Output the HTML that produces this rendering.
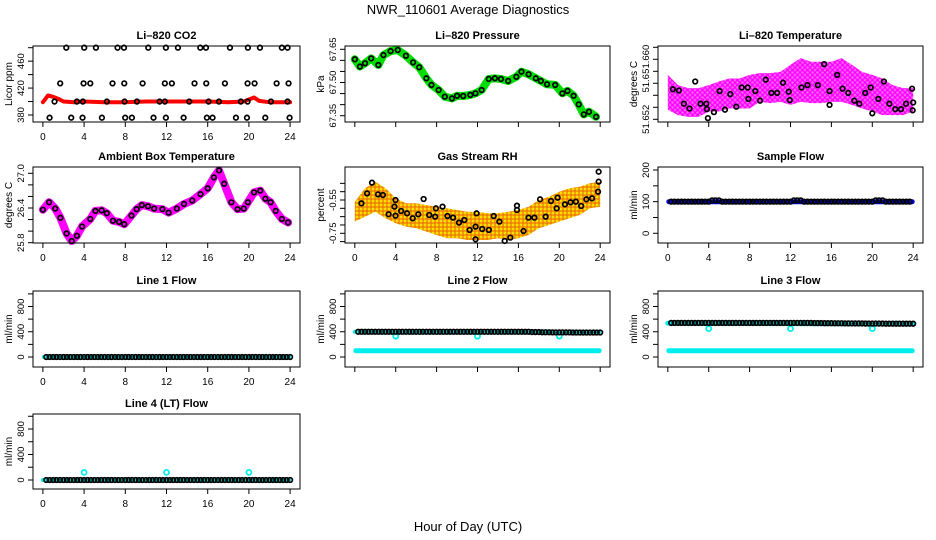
<!DOCTYPE html>
<html><head><meta charset="utf-8"><style>
html,body{margin:0;padding:0;background:#fff}
svg{display:block}
text{font-family:"Liberation Sans",Arial,sans-serif;fill:#000}
</style></head><body>
<svg id="chart" width="936" height="540" viewBox="0 0 936 540">
<defs>
<pattern id="magPat" width="5" height="5" patternUnits="userSpaceOnUse"><rect width="5" height="5" fill="#f6f"/><circle cx="2.5" cy="2.5" r="1.9" fill="none" stroke="#f0f" stroke-width="1.3"/></pattern>
<pattern id="orPat" width="4" height="4" patternUnits="userSpaceOnUse"><rect width="4" height="4" fill="#f0a000"/><rect x="0" y="0" width="2" height="2" fill="#ffdd00"/><rect x="2" y="2" width="2" height="2" fill="#f08000"/></pattern>
</defs>
<text x="468" y="14" text-anchor="middle" font-size="13">NWR_110601  Average Diagnostics</text>
<text x="468" y="531" text-anchor="middle" font-size="13">Hour of Day (UTC)</text>
</svg>
<script>
// ---------- data ----------
const xTicks=[0,4,8,12,16,20,24];
const co2T480=[2.27,4.01,5.15,7.25,7.87,10.23,11.94,13.11,15.28,15.83,18.16,19.9,21.07,23.2,23.75];
const co2T427=[1.68,3.95,4.6,6.76,7.9,9.68,11.84,12.52,14.72,15.86,17.67,19.87,20.55,22.69,23.85];
const co2T400=[1.13,3.3,3.88,6.21,7.93,9.13,11.33,11.84,14.21,16.08,17.09,19.22,19.87,22.14,23.75];
const co2T376=[0.65,2.75,3.85,5.73,7.99,8.64,10.74,11.94,13.66,15.92,16.47,18.74,19.81,21.59,23.95];
const co2Levels=[480,427,400,376];
const co2RedT=[0,0.5,1,1.5,2,3,4,6,8,10,12,14,16,18,19.5,20,20.5,21,22,23,24];
const co2RedV=[399,409,407,404,400,399,400,399,399,400,400,400,400,399,400,403,406,401,399,399,399];
const presT=[0,0.5,1,1.6,2.3,2.8,3.5,4.2,5,5.7,6.3,7,7.5,8.2,8.8,9.5,10,10.6,11.3,11.8,12.4,13.1,13.7,14.3,15,15.8,16.3,17,17.7,18.2,18.8,19.6,20.3,20.8,21.4,21.9,22.4,22.9,23.6];
const presV=[67.605,67.572,67.587,67.609,67.579,67.624,67.642,67.647,67.621,67.591,67.569,67.519,67.489,67.466,67.436,67.428,67.44,67.439,67.444,67.451,67.466,67.516,67.519,67.516,67.507,67.526,67.549,67.537,67.519,67.507,67.492,67.489,67.451,67.462,67.44,67.401,67.356,67.368,67.345];
const tempBandT=[0,1,2,3,4,5,6,7,8,9,10,11,12,13,14,15,16,17,18,19,20,21,22,23,24];
const tempLo=[51.6516,51.6507,51.6504,51.6504,51.6513,51.6513,51.6518,51.6518,51.6518,51.6529,51.6527,51.6529,51.6524,51.6529,51.6527,51.6527,51.6529,51.6529,51.6524,51.6518,51.6513,51.6507,51.6507,51.6507,51.6513];
const tempHi=[51.6574,51.6557,51.6552,51.6552,51.6557,51.6563,51.6568,51.6568,51.6574,51.6577,51.6577,51.6579,51.6591,51.6602,51.6596,51.6596,51.6596,51.6602,51.6591,51.6579,51.6574,51.6568,51.6557,51.6552,51.6552];
const tempT=[0.49,1.08,1.57,2.12,2.68,3.2,3.76,3.82,3.92,4.51,5.07,5.59,6.11,6.7,7.22,7.81,7.88,8.56,9.02,9.58,10.13,10.69,11.27,11.83,11.93,13.07,13.66,14.67,15.29,15.82,15.82,16.57,17.09,17.65,18.24,18.73,19.31,19.84,20,20.59,21.14,21.67,22.25,22.81,23.3,23.89,23.95,24];
const tempV=[51.655,51.6548,51.6526,51.6518,51.6563,51.6526,51.6526,51.6517,51.6502,51.6512,51.6547,51.6516,51.6542,51.6521,51.6553,51.6553,51.6534,51.6547,51.6531,51.6566,51.6544,51.6544,51.6561,51.6546,51.6532,51.6553,51.6557,51.6557,51.6592,51.6547,51.6524,51.6574,51.6551,51.6544,51.6531,51.6526,51.6544,51.6553,51.651,51.6534,51.6563,51.6526,51.6517,51.6517,51.6526,51.6551,51.6515,51.6528];
const ambT=[0,0.6,1.2,1.7,2.3,2.8,3.3,3.8,4.6,5.1,5.7,6.2,6.8,7.4,7.9,8.6,9.1,9.6,10.2,10.8,11.6,12.2,13,13.7,14.5,15.3,16,16.6,17.1,17.6,18.3,18.9,19.5,19.9,20.5,21.1,21.6,22.1,22.6,23.2,23.8];
const ambV=[26.37,26.5,26.39,26.23,25.96,25.83,25.92,26.08,26.21,26.35,26.36,26.31,26.18,26.16,26.12,26.27,26.38,26.45,26.43,26.39,26.38,26.32,26.39,26.47,26.53,26.64,26.74,26.93,27.05,26.82,26.5,26.38,26.39,26.5,26.67,26.7,26.56,26.5,26.35,26.21,26.15];
const rhBandT=[0,1,2,3,4,5,6,7,8,9,10,11,12,13,14,15,16,17,18,19,20,21,22,23,24];
const rhHi=[-0.56,-0.48,-0.44,-0.48,-0.54,-0.57,-0.57,-0.58,-0.59,-0.6,-0.61,-0.62,-0.62,-0.63,-0.63,-0.62,-0.61,-0.59,-0.55,-0.53,-0.5,-0.48,-0.47,-0.45,-0.44];
const rhLo=[-0.68,-0.65,-0.62,-0.66,-0.69,-0.71,-0.72,-0.74,-0.76,-0.78,-0.78,-0.79,-0.79,-0.79,-0.78,-0.79,-0.78,-0.76,-0.72,-0.7,-0.68,-0.66,-0.64,-0.6,-0.59];
const rhT=[0.65,1.2,1.68,2.27,2.75,3.3,3.88,3.98,3.98,4.53,5.11,5.66,6.21,6.73,7.28,7.86,7.93,8.58,9.06,9.61,10.19,10.71,11.23,11.81,11.81,11.91,12.46,13.11,13.59,14.14,14.66,15.21,15.86,15.86,16.5,16.99,17.57,18.12,18.67,19.19,19.74,19.84,20.55,21.1,21.62,22.14,22.65,23.2,23.79,23.85,23.85];
const rhV=[-0.57,-0.51,-0.446,-0.516,-0.52,-0.636,-0.59,-0.55,-0.644,-0.616,-0.63,-0.66,-0.636,-0.544,-0.64,-0.65,-0.6,-0.59,-0.646,-0.656,-0.686,-0.67,-0.73,-0.71,-0.786,-0.63,-0.724,-0.73,-0.646,-0.68,-0.796,-0.776,-0.61,-0.584,-0.736,-0.656,-0.656,-0.546,-0.65,-0.556,-0.6,-0.536,-0.576,-0.564,-0.56,-0.586,-0.546,-0.54,-0.5,-0.44,-0.38];
const flowHours=[0,1,2,3,4,5,6,7,8,9,10,11,12,13,14,15,16,17,18,19,20,21,22,23];
const sampleBlack=[100,100,100,100,104,100,100,100,100,100,100,100,104,100,100,100,100,100,100,100,104,100,100,100];
const line1Black=[0,0,0,0,0,0,0,0,0,0,0,0,0,0,0,0,0,0,0,0,0,0,0,0];
const line2Black=[400,400,400,400,400,400,400,400,400,400,400,400,400,400,400,400,400,395,392,390,390,388,388,388];
const line2Dips=[4,12,20];
const line3Black=[540,540,540,540,540,540,540,540,540,540,540,540,540,540,538,536,535,533,532,530,530,528,528,528];
const line4Black=[0,0,0,0,0,0,0,0,0,0,0,0,0,0,0,0,0,0,0,0,0,0,0,0];
const line4Spikes=[4,12,20];
const line4SpikeV=[120,120,120];

// ---------- drawing ----------
const NS='http://www.w3.org/2000/svg';
const svg=document.getElementById('chart');
function mk(tag,attrs,parent){const e=document.createElementNS(NS,tag);for(const k in attrs)e.setAttribute(k,attrs[k]);(parent||svg).appendChild(e);return e;}
const cols=[[33,300],[345,610],[658,923]];
const rows=[[46,122],[167,243],[291,367],[414,489]];
function panel(name,title,col,row,yref,yticks,ylabels,ytitle,showX){
  const [x0,x1]=cols[col],[y0,y1]=rows[row];
  const g=mk('g',{});
  
  
  const xs=t=>x0+(t+0.96)/25.92*(x1-x0);
  const ys=v=>yref[1]+(v-yref[0])*(yref[3]-yref[1])/(yref[2]-yref[0]);
  const t=mk('text',{x:(x0+x1)/2,y:y0-7,'text-anchor':'middle','font-size':'11','font-weight':'bold'},g);
  
  
  t.textContent=title;
  const plot=mk('g',{},g);
  const box=mk('rect',{x:x0,y:y0,width:x1-x0,height:y1-y0,fill:'none',stroke:'#000','stroke-width':1},g);
  
  
  const ax=mk('g',{},g);
  
  
  xTicks.forEach(v=>{const x=xs(v);mk('line',{x1:x,x2:x,y1:y1,y2:y1+5,stroke:'#000'},ax);
    if(showX){const l=mk('text',{x:x,y:y1+18,'text-anchor':'middle','font-size':'10'},ax);l.textContent=v;}});
  const ay=mk('g',{},g);
  
  
  yticks.forEach((v,i)=>{const y=ys(v);mk('line',{x1:x0-5,x2:x0,y1:y,y2:y,stroke:'#000'},ay);
    if(ylabels[i]){const l=mk('text',{x:0,y:0,'text-anchor':'middle','font-size':'9.5',transform:`translate(${x0-9},${y}) rotate(-90)`},ay);l.textContent=ylabels[i];}});
  const yt=mk('text',{x:0,y:0,'text-anchor':'middle','font-size':'10',transform:`translate(${x0-21},${(y0+y1)/2}) rotate(-90)`},g);
  
  
  yt.textContent=ytitle;
  return {plot,xs,ys};
}
function circ(p,x,y,color,r,w){const c=mk('circle',{cx:x,cy:y,r:r||2.3,fill:'none',stroke:color,'stroke-width':w||1.7},p);return c;}
function polyline(P,T,V,color,w){const d=T.map((t,i)=>(i?'L':'M')+P.xs(t).toFixed(1)+','+P.ys(V[i]).toFixed(1)).join('');
  const e=mk('path',{d:d,fill:'none',stroke:color,'stroke-width':w,'stroke-linejoin':'round','stroke-linecap':'round'},P.plot);
  return e;}
function band(P,T,lo,hi,fill){let d=T.map((t,i)=>(i?'L':'M')+P.xs(t).toFixed(1)+','+P.ys(hi[i]).toFixed(1)).join('');
  for(let i=T.length-1;i>=0;i--)d+='L'+P.xs(T[i]).toFixed(1)+','+P.ys(lo[i]).toFixed(1);
  const e=mk('path',{d:d+'Z',fill:fill,stroke:'none'},P.plot);
  }

let P=panel('panel-co2','Li\u2013820 CO2',0,0,[380,115,480,47.7],[380,400,420,440,460,480],['380','','420','','460',''],'Licor ppm',true);
polyline(P,co2RedT,co2RedV,'#f00',4);
[co2T480,co2T427,co2T400,co2T376].forEach((arr,k)=>arr.forEach(t=>circ(P.plot,P.xs(t),P.ys(co2Levels[k]),'#000')));
P=panel('panel-pressure','Li\u2013820 Pressure',1,0,[67.35,115.7,67.65,49.3],[67.35,67.4,67.45,67.5,67.55,67.6,67.65],['67.35','','','67.50','','','67.65'],'kPa',false);
polyline(P,presT,presV,'#0d0',8);
presT.forEach((t,i)=>circ(P.plot,P.xs(t),P.ys(presV[i]),'#000'));
P=panel('panel-li820-temp','Li\u2013820 Temperature',2,0,[51.65,119.3,51.662,47.3],[51.650,51.652,51.654,51.656,51.658,51.660,51.662],['51.652','','','51.6','','51.660',''],'degrees C',false);
band(P,tempBandT,tempLo,tempHi,'url(#magPat)');
tempT.forEach((t,i)=>circ(P.plot,P.xs(t),P.ys(tempV[i]),'#000'));
P=panel('panel-ambient-temp','Ambient Box Temperature',0,1,[25.8,242.7,27.0,173.3],[25.8,26.0,26.2,26.4,26.6,26.8,27.0],['25.8','','','26.4','','','27.0'],'degrees C',true);
polyline(P,ambT,ambV,'#f0f',8);
ambT.forEach((t,i)=>circ(P.plot,P.xs(t),P.ys(ambV[i]),'#000'));
P=panel('panel-gas-rh','Gas Stream RH',1,1,[-0.75,233.3,-0.55,200],[-0.8,-0.75,-0.7,-0.65,-0.6,-0.55,-0.5,-0.45],['','-0.75','','','','-0.55','',''],'percent',true);
band(P,rhBandT,rhLo,rhHi,'url(#orPat)');
rhT.forEach((t,i)=>circ(P.plot,P.xs(t),P.ys(rhV[i]),'#000'));
P=panel('panel-sample-flow','Sample Flow',2,1,[0,233.3,200,170],[0,50,100,150,200],['0','','100','','200'],'ml/min',true);
polyline(P,[0.1,23.9],[100,100],'#00f',5);
flowHours.forEach((h,i)=>[0.5,0.83,1.17].forEach(o=>{if(h+o<=24)circ(P.plot,P.xs(h+o-0.17),P.ys(sampleBlack[i]),'#000')}));
const flowRef=r=>[0,rows[r][0]+66,800,rows[r][0]+15.5];
const fT=[0,200,400,600,800,1000],fL=['0','','400','','800',''];
P=panel('panel-line1-flow','Line 1 Flow',0,2,flowRef(2),fT,fL,'ml/min',true);
polyline(P,[0.1,23.9],[0,0],'#0ee',4);
flowHours.forEach((h,i)=>[0.5,0.83,1.17].forEach(o=>circ(P.plot,P.xs(h+o-0.17),P.ys(line1Black[i]),'#000')));
P=panel('panel-line2-flow','Line 2 Flow',1,2,flowRef(2),fT,fL,'ml/min',false);
polyline(P,[0.1,23.9],[100,100],'#0ee',5);
polyline(P,[0,23.9],[400,390],'#0ee',4);
line2Dips.forEach(t=>circ(P.plot,P.xs(t),P.ys(330),'#0ee',2.5,1.8));
flowHours.forEach((h,i)=>[0.5,0.83,1.17].forEach(o=>circ(P.plot,P.xs(h+o-0.17),P.ys(line2Black[i]),'#000')));
P=panel('panel-line3-flow','Line 3 Flow',2,2,flowRef(2),fT,fL,'ml/min',false);
polyline(P,[0.1,23.9],[100,100],'#0ee',5);
polyline(P,[0,23.9],[535,525],'#0ee',5);
line2Dips.forEach(t=>circ(P.plot,P.xs(t),P.ys(450),'#0ee',2.5,1.8));
flowHours.forEach((h,i)=>[0.5,0.83,1.17].forEach(o=>circ(P.plot,P.xs(h+o-0.17),P.ys(line3Black[i]),'#000')));
P=panel('panel-line4-flow','Line 4 (LT) Flow',0,3,[0,480,800,429],fT,fL,'ml/min',true);
polyline(P,[0,23.9],[0,0],'#0ee',4);
line4Spikes.forEach((t,i)=>circ(P.plot,P.xs(t),P.ys(line4SpikeV[i]),'#0ee',2.5,1.8));
flowHours.forEach((h,i)=>[0.5,0.83,1.17].forEach(o=>circ(P.plot,P.xs(h+o-0.17),P.ys(line4Black[i]),'#000')));
</script>
</body></html>
